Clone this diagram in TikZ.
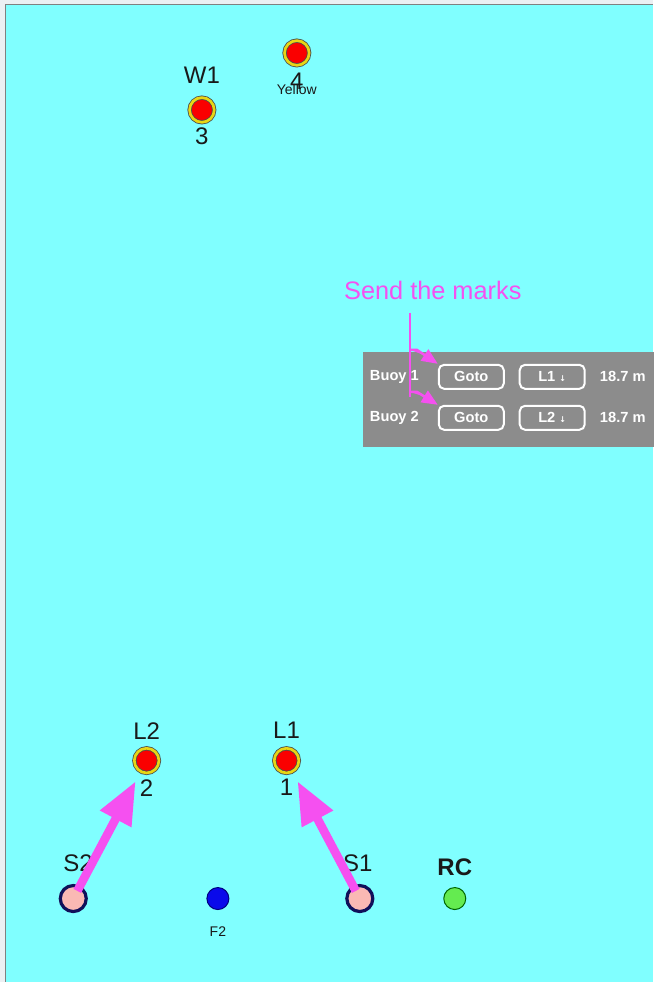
\documentclass[tikz,border=0pt]{standalone}
\usepackage{fontspec}
\setmainfont{Liberation Sans}
\newfontfamily\arrowfont{DejaVu Sans}
\usepackage{xcolor}
\usetikzlibrary{arrows.meta, positioning}

\definecolor{water}{RGB}{128,255,255}
\definecolor{frame}{RGB}{236,240,243}
\definecolor{markred}{RGB}{250,0,0}
\definecolor{ringyellow}{RGB}{232,214,20}
\definecolor{pinmagenta}{RGB}{245,80,240}
\definecolor{startpink}{RGB}{250,185,180}
\definecolor{startnavy}{RGB}{16,16,90}
\definecolor{flagblue}{RGB}{10,10,235}
\definecolor{rcgreen}{RGB}{100,235,80}
\definecolor{panelgray}{RGB}{140,140,140}

\begin{document}
\begin{tikzpicture}[
    x=0.75pt, y=-0.75pt,
    buoymark/.style={circle, fill=markred, draw=black!70, line width=0.6pt,
                 double=ringyellow, double distance=2pt, minimum size=18.5pt, inner sep=0pt},
    startpin/.style={circle, fill=startpink, draw=startnavy, line width=2.4pt,
                 minimum size=19.5pt, inner sep=0pt},
    dot/.style={circle, line width=0.75pt, minimum size=16.5pt, inner sep=0pt},
    marklabel/.style={inner sep=0pt, text=black!90, font=\fontsize{18}{18}\selectfont},
    smalllabel/.style={inner sep=0pt, text=black!90, font=\fontsize{10.5}{10.5}\selectfont},
    bigarrow/.style={draw=pinmagenta, fill=pinmagenta, line width=6.5pt,
                 -{Triangle[length=32pt, width=25pt]}},
    btn/.style={draw=white, line width=1.5pt, rounded corners=4pt, minimum width=48.75pt,
                minimum height=18pt, inner sep=0pt, text=white,
                font=\bfseries\fontsize{11}{11}\selectfont},
    paneltext/.style={inner sep=0pt, text=white, font=\bfseries\fontsize{11}{11}\selectfont},
    note/.style={inner sep=0pt, text=pinmagenta, font=\fontsize{19}{19}\selectfont},
    noteline/.style={draw=pinmagenta, line width=1.9pt},
    notearrow/.style={noteline, fill=pinmagenta, -{Triangle[length=12pt, width=10pt]}}
    ]
    % window and water
    \fill[frame] (0,0) rectangle (653,982);
    \fill[water] (6,5) rectangle (653,982);
    \draw[gray, line width=0.75pt] (6,982) -- (6,5) -- (653,5);
    \useasboundingbox (0,0) rectangle (653,982);

    % windward marks
    \node[buoymark] (w1) at (202,110) {};
    \node[marklabel, above=10.3pt of w1] (w1name) {W1};
    \node[marklabel, below=3.5pt of w1] (w1num) {3};
    \node[buoymark] (y4) at (297,53) {};
    \node[marklabel, below=5pt of y4] (y4num) {4};
    \node[smalllabel, below=13.5pt of y4] (y4name) {Yellow};

    % leeward marks
    \node[buoymark] (l2) at (146.7,761) {};
    \node[marklabel, above=6pt of l2] (l2name) {L2};
    \node[marklabel, below=4.3pt of l2] (l2num) {2};
    \node[buoymark] (l1) at (286.7,761) {};
    \node[marklabel, above=6.8pt of l1] (l1name) {L1};
    \node[marklabel, below=4.3pt of l1] (l1num) {1};

    % start line
    \node[startpin] (s2) at (73.3,899) {};
    \node[marklabel, above=9.2pt of s2, xshift=3.5pt] (s2name) {S2};
    \node[startpin] (s1) at (360,899) {};
    \node[marklabel, above=9.2pt of s1, xshift=-1.5pt] (s1name) {S1};
    \node[dot, fill=flagblue, draw=blue!50!black] (f2) at (218,899) {};
    \node[smalllabel, below=12pt of f2] (f2name) {F2};
    \node[dot, fill=rcgreen, draw=green!40!black] (rc) at (455,899) {};
    \node[marklabel, font=\bfseries\fontsize{18}{18}\selectfont, above=8pt of rc] (rcname) {RC};

    \draw[bigarrow, shorten <=6.5pt, shorten >=8pt] (s2.center) -- (l2);
    \draw[bigarrow, shorten <=6.5pt, shorten >=8pt] (s1.center) -- (l1);

    % buoy panel
    \node[fill=panelgray, minimum width=218pt, minimum height=71.25pt, inner sep=0pt]
        (panel) at (508.5,399.5) {};
    \node[btn] (goto1) at (471.5,377) {Goto};
    \node[btn, right=10.5pt of goto1] (lbtn1) {L1 {\arrowfont\fontsize{6}{6}\selectfont ↓}};
    \node[paneltext, right=10.5pt of lbtn1] (dist1) {18.7 m};
    \node[paneltext, left=14pt of goto1] (buoy1) {Buoy 1};
    \node[btn, below=11.25pt of goto1] (goto2) {Goto};
    \node[btn, right=10.5pt of goto2] (lbtn2) {L2 {\arrowfont\fontsize{6}{6}\selectfont ↓}};
    \node[paneltext, right=10.5pt of lbtn2] (dist2) {18.7 m};
    \node[paneltext, left=14pt of goto2] (buoy2) {Buoy 2};

    % callout
    \node[note] (send) at (433,291) {Send the marks};
    \coordinate (stemtop) at (410,313);
    \coordinate (stemend) at (410,397);
    \coordinate (fork1) at (410,350);
    \coordinate (fork2) at (410,392);
    \draw[noteline] (stemtop) -- (stemend);
    \draw[notearrow] (fork1) -- ++(7,0) -- (goto1.north west);
    \draw[notearrow] (fork2) -- ++(7,0) -- (goto2.north west);
  \end{tikzpicture}
\end{document}
